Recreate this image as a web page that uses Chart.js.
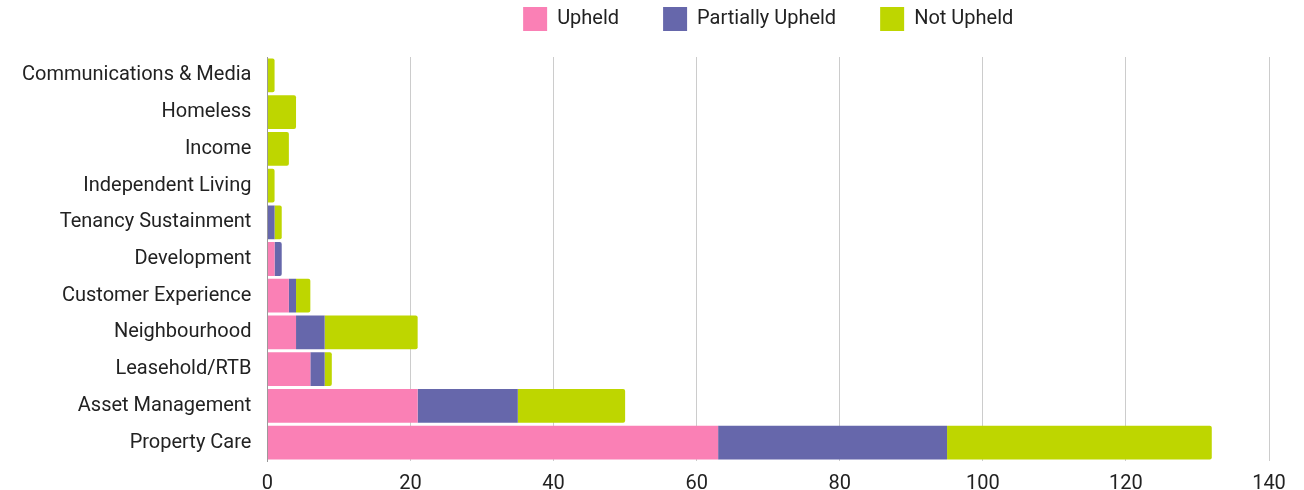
<!DOCTYPE html>
<html>
<head>
<meta charset="utf-8">
<script src="https://cdn.jsdelivr.net/npm/chart.js@4"></script>
<style>
  body { margin: 0; background: #fff; }
  #wrap { width: 1304px; height: 490px; }
</style>
</head>
<body>
<div id="wrap"><canvas id="myChart"></canvas></div>
<script>
// categories, top to bottom
const categories = [
    'Communications & Media', 'Homeless', 'Income', 'Independent Living',
    'Tenancy Sustainment', 'Development', 'Customer Experience',
    'Neighbourhood', 'Leasehold/RTB', 'Asset Management', 'Property Care'
];
const upheld          = [0, 0, 0, 0, 0, 1, 3, 4, 6, 21, 63];
const partiallyUpheld = [0, 0, 0, 0, 1, 1, 1, 4, 2, 14, 32];
const notUpheld       = [1, 4, 3, 1, 1, 0, 2, 13, 1, 15, 37];
const xTicks = [0, 20, 40, 60, 80, 100, 120, 140];

const data = {
    labels: categories,
    datasets: [
        { label: 'Upheld', data: upheld, backgroundColor: '#fa80b5' },
        { label: 'Partially Upheld', data: partiallyUpheld, backgroundColor: '#6667ab' },
        { label: 'Not Upheld', data: notUpheld, backgroundColor: '#bed600' }
    ]
};
data.datasets.forEach(ds => {
    ds.barPercentage = 0.92;
    ds.categoryPercentage = 1;
    ds.borderWidth = 0;
    ds.borderRadius = 2;
    ds.borderSkipped = 'start';
});

Chart.defaults.font.family = 'Roboto';
Chart.defaults.font.size = 20;
Chart.defaults.color = '#222';

const config = {
    type: 'bar',
    data: data,
    options: {
        indexAxis: 'y',
        responsive: true,
        maintainAspectRatio: false,
        animation: false,
        layout: { padding: { left: 6, right: 35, top: -37, bottom: -17 } },
        plugins: {
            legend: {
                position: 'top',
                fullSize: false,   // centre the legend over the plot area
                labels: { boxWidth: 24, boxHeight: 24, padding: 44 }
            },
            tooltip: { enabled: false }
        },
        scales: {
            x: {
                stacked: true,
                min: 0, max: 140,
                afterBuildTicks: axis => { axis.ticks = xTicks.map(v => ({ value: v })); },
                grid: { color: '#cccccc', drawTicks: false, lineWidth: 1 },
                border: { display: false },
                ticks: { padding: 11 }
            },
            // empty spacer between legend and plot
            xTop: {
                type: 'linear',
                position: 'top',
                grid: { display: false, drawTicks: false },
                border: { display: false },
                ticks: { display: false },
                afterFit: s => { s.height = 16; }
            },
            y: {
                stacked: true,
                grid: { display: false, drawTicks: false },
                border: { display: true, color: '#999999' },
                ticks: { padding: 16 }
            }
        }
    }
};

var myChartJS = new Chart(document.getElementById('myChart'), config);
</script>
</body>
</html>
